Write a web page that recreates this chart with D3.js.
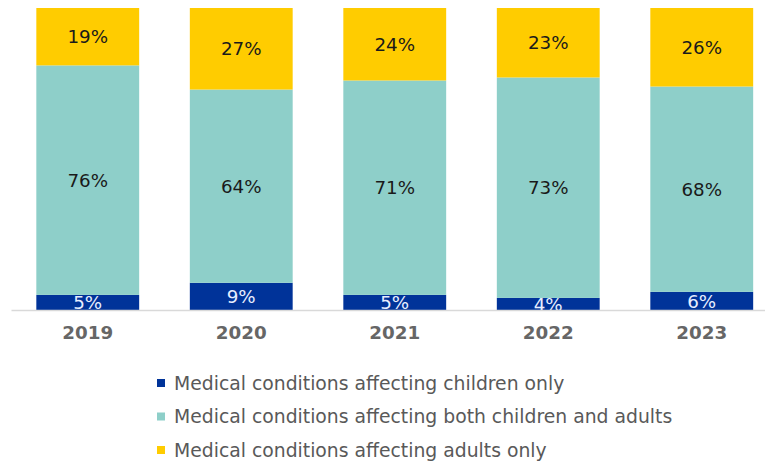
<!DOCTYPE html>
<html>
<head>
<meta charset="utf-8">
<script src="https://cdn.jsdelivr.net/npm/d3@7"></script>
<style>
  html, body { margin: 0; padding: 0; background: #fff; }
  svg { display: block; font-family: Verdana, "DejaVu Sans", sans-serif; }
</style>
</head>
<body>
<svg id="chart" width="765" height="461"></svg>
<script>
// Share of medical conditions by group, per year (percent)
const years = ["2019", "2020", "2021", "2022", "2023"];
const childrenOnly = [5, 9, 5, 4, 6];
const bothGroups = [76, 64, 71, 73, 68];
const adultsOnly = [19, 27, 24, 23, 26];

const seriesNames = [
  "Medical conditions affecting children only",
  "Medical conditions affecting both children and adults",
  "Medical conditions affecting adults only"
];
const seriesColors = ["#003399", "#8ecfc9", "#ffcc00"];
const labelColors = ["#e8eeff", "#1a1a1a", "#1a1a1a"];

const rows = years.map((y, i) => ({
  year: y,
  c: childrenOnly[i],
  b: bothGroups[i],
  a: adultsOnly[i]
}));
const keys = ["c", "b", "a"];

const svg = d3.select("#chart");

const x = d3.scaleBand()
  .domain(years)
  .range([11, 778.5])
  .paddingInner(0.33)
  .paddingOuter(0.165);

const y = d3.scaleLinear()
  .domain([0, 100])
  .range([310, 8]);

const stacked = d3.stack().keys(keys)(rows);

const groups = svg.append("g").selectAll("g")
  .data(stacked)
  .join("g")
  .attr("fill", (d, i) => seriesColors[i]);

groups.selectAll("rect")
  .data(d => d)
  .join("rect")
  .attr("x", d => x(d.data.year))
  .attr("width", x.bandwidth())
  .attr("y", d => y(d[1]))
  .attr("height", d => y(d[0]) - y(d[1]));

// Value labels centred in each segment
stacked.forEach((s, si) => {
  svg.append("g").selectAll("text")
    .data(s)
    .join("text")
    .attr("x", d => x(d.data.year) + x.bandwidth() / 2)
    .attr("y", d => (y(d[0]) + y(d[1])) / 2)
    .attr("dy", "0.36em")
    .attr("text-anchor", "middle")
    .attr("font-size", 18.3)
    .attr("fill", labelColors[si])
    .text(d => (d[1] - d[0]) + "%");
});

// Category axis
const xAxis = svg.append("g")
  .attr("transform", "translate(0,310)")
  .call(d3.axisBottom(x).tickSize(0).tickPadding(16));
xAxis.select(".domain").attr("stroke", "#d9d9d9").attr("stroke-width", 1.5);
xAxis.selectAll("text")
  .attr("font-family", 'Verdana, "DejaVu Sans", sans-serif')
  .attr("font-size", 18.3)
  .attr("font-weight", "bold")
  .attr("fill", "#666666");

// Legend
const legend = svg.append("g").selectAll("g")
  .data(seriesNames)
  .join("g")
  .attr("transform", (d, i) => `translate(157, ${383 + i * 33.5})`);
legend.append("rect")
  .attr("x", 0).attr("y", -4)
  .attr("width", 8).attr("height", 8)
  .attr("fill", (d, i) => seriesColors[i]);
legend.append("text")
  .attr("x", 17)
  .attr("dy", "0.36em")
  .attr("font-size", 18.8)
  .attr("fill", "#595959")
  .text(d => d);
</script>
</body>
</html>
